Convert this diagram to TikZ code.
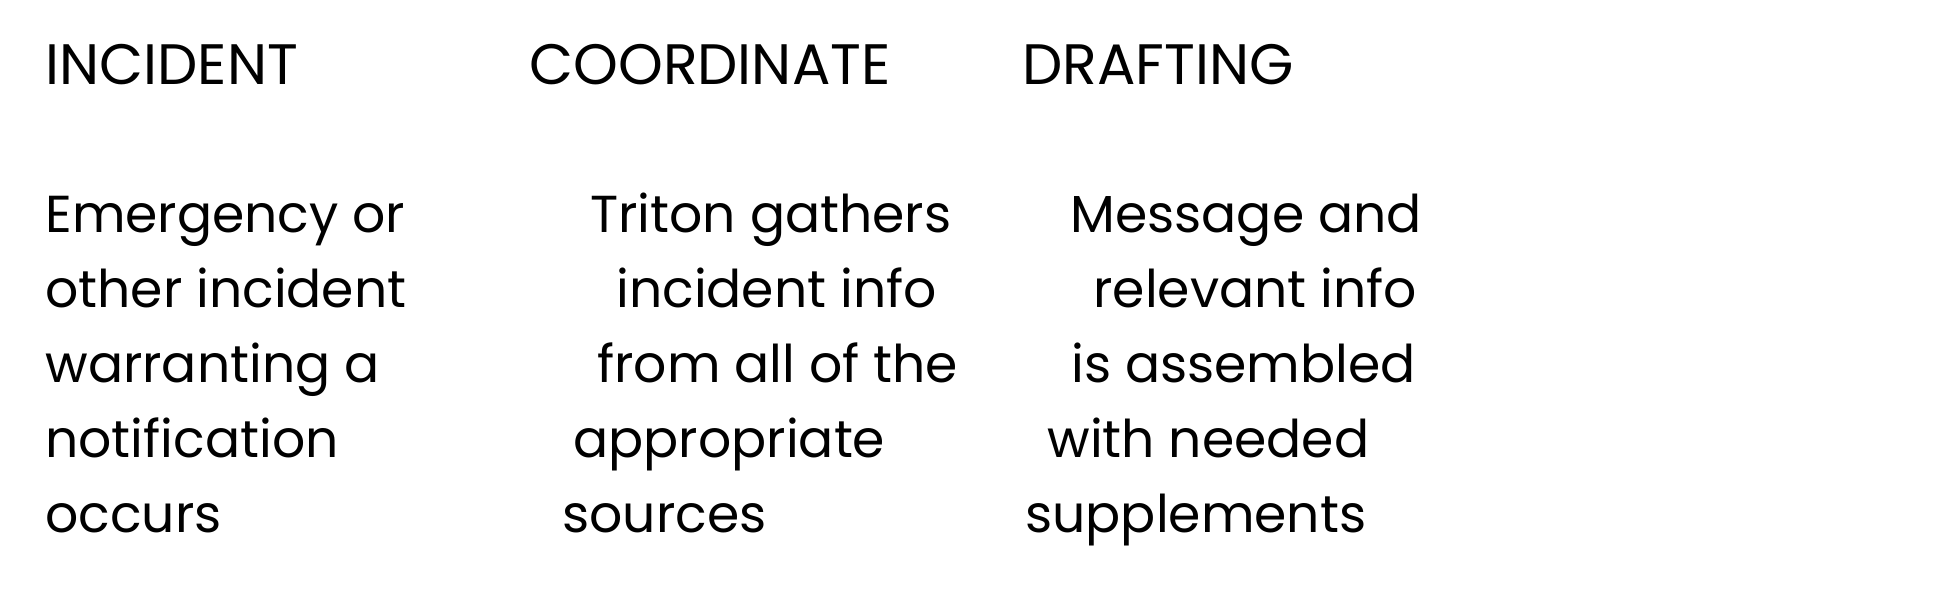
\documentclass[tikz,border=0pt]{standalone}
\usepackage{fontspec}
\setmainfont{Poppins}
\usepackage{tikz}

\tikzset{
    title/.style={anchor=base west, inner sep=0pt, font=\fontsize{28.5}{34}\selectfont},
    body/.style={anchor=base west, inner sep=0pt, font=\fontsize{26}{32}\selectfont}
}

\begin{document}
\begin{tikzpicture}[x=0.5pt, y=-0.5pt]
        \useasboundingbox (0,0) rectangle (1959,595);

        \node[title] (incident) at (45,84) {INCIDENT};
        \node[title] (coordinate) at (529,84) {COORDINATE};
        \node[title] (drafting) at (1022,84) {DRAFTING};

        \foreach \x/\txt [count=\i] in {45/Emergency or, 45/other incident,
            45/warranting a, 45/notification, 45/occurs}
            \node[body] (inc\i) at (\x,157+75*\i) {\txt};

        \foreach \x/\txt [count=\i] in {590/Triton gathers, 616/incident info,
            597/from all of the, 573/appropriate, 562/sources}
            \node[body] (coord\i) at (\x,157+75*\i) {\txt};

        \foreach \x/\txt [count=\i] in {1070/Message and, 1093/relevant info,
            1071/is assembled, 1047/with needed, 1025/supplements}
            \node[body] (draft\i) at (\x,157+75*\i) {\txt};

    \end{tikzpicture}
\end{document}
